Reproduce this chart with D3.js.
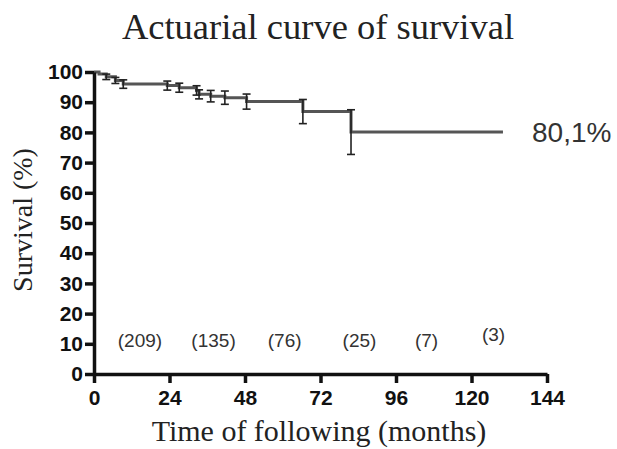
<!DOCTYPE html>
<html>
<head>
<meta charset="utf-8">
<script src="https://cdn.jsdelivr.net/npm/d3@7"></script>
<style>
  body { margin: 0; background: #fff; }
</style>
</head>
<body>
<div id="chart"></div>
<script>
// step times (months) and survival (%)
var stepTimes = [0, 1.6, 3.9, 6.8, 9.3, 23.3, 27.1, 32.6, 33.4, 37.1, 41.6, 48.5, 66.4, 81.7];
var survival  = [100, 99.3, 98.4, 97.2, 96.0, 95.5, 94.8, 93.9, 92.6, 92.0, 91.5, 90.2, 86.9, 80.1];
var errHalf   = [0, 0, 0.9, 1.0, 1.4, 1.5, 1.5, 1.55, 1.5, 1.9, 2.2, 2.5, 4.0, 7.4];
var lastTime = 130;

// patients at risk, printed along the bottom
var riskLabels = ["(209)", "(135)", "(76)", "(25)", "(7)", "(3)"];
var riskTimes  = [14.6, 38.0, 60.6, 84.4, 105.7, 127.0];
var riskLevel  = [11, 11, 11, 11, 11, 13];

var xTicks = [0, 24, 48, 72, 96, 120, 144];
var yTicks = [0, 10, 20, 30, 40, 50, 60, 70, 80, 90, 100];

var width = 617, height = 449;

var svg = d3.select("#chart").append("svg")
    .attr("width", width)
    .attr("height", height);

var x = d3.scaleLinear().domain([0, 144]).range([94, 547]);
var y = d3.scaleLinear().domain([0, 100]).range([374, 72]);

// title
svg.append("text")
    .attr("x", 318)
    .attr("y", 39)
    .attr("text-anchor", "middle")
    .attr("font-family", "Liberation Serif, Times New Roman, serif")
    .attr("font-size", "36.5px")
    .attr("fill", "#222")
    .text("Actuarial curve of survival");

// survival step line
var pts = stepTimes.map(function (t, i) { return [t, survival[i]]; });
pts.push([lastTime, survival[survival.length - 1]]);

var line = d3.line()
    .x(function (d) { return x(d[0]); })
    .y(function (d) { return y(d[1]); })
    .curve(d3.curveStepAfter);

svg.append("path")
    .datum(pts)
    .attr("d", line)
    .attr("fill", "none")
    .attr("stroke", "#555")
    .attr("stroke-width", 3);

// error bars
var bars = stepTimes.map(function (t, i) { return { t: t, s: survival[i], e: errHalf[i] }; })
    .filter(function (d) { return d.e > 0; });

var eb = svg.selectAll("g.err")
    .data(bars)
    .enter()
    .append("g")
    .attr("class", "err")
    .attr("stroke", "#222")
    .attr("stroke-width", 1.6);

eb.append("line")
    .attr("x1", function (d) { return x(d.t); })
    .attr("x2", function (d) { return x(d.t); })
    .attr("y1", function (d) { return y(d.s + d.e); })
    .attr("y2", function (d) { return y(d.s - d.e); });

eb.append("line")
    .attr("x1", function (d) { return x(d.t) - 4; })
    .attr("x2", function (d) { return x(d.t) + 4; })
    .attr("y1", function (d) { return y(d.s + d.e); })
    .attr("y2", function (d) { return y(d.s + d.e); });

eb.append("line")
    .attr("x1", function (d) { return x(d.t) - 4; })
    .attr("x2", function (d) { return x(d.t) + 4; })
    .attr("y1", function (d) { return y(d.s - d.e); })
    .attr("y2", function (d) { return y(d.s - d.e); });

// axes
var xAxis = svg.append("g")
    .attr("transform", "translate(0," + y(0) + ")")
    .call(d3.axisBottom(x).tickValues(xTicks).tickSize(9).tickPadding(7).tickSizeOuter(0));

var yAxis = svg.append("g")
    .attr("transform", "translate(" + x(0) + ",0)")
    .call(d3.axisLeft(y).tickValues(yTicks).tickSize(9).tickPadding(2).tickSizeOuter(0));

[xAxis, yAxis].forEach(function (g) {
    g.select(".domain").attr("stroke", "#111").attr("stroke-width", 3.5);
    g.selectAll(".tick line").attr("stroke", "#111").attr("stroke-width", 3.5);
    g.selectAll(".tick text")
        .attr("font-family", "Liberation Sans, Arial, sans-serif")
        .attr("font-weight", "bold")
        .attr("font-size", "21px")
        .attr("fill", "#111");
});

// numbers at risk
svg.selectAll("text.risk")
    .data(riskLabels)
    .enter()
    .append("text")
    .attr("class", "risk")
    .attr("x", function (d, i) { return x(riskTimes[i]); })
    .attr("y", function (d, i) { return y(riskLevel[i]); })
    .attr("dy", "0.35em")
    .attr("text-anchor", "middle")
    .attr("font-family", "Liberation Sans, Arial, sans-serif")
    .attr("font-size", "19px")
    .attr("fill", "#333")
    .text(function (d) { return d; });

// final value label
svg.append("text")
    .attr("x", 532)
    .attr("y", y(survival[survival.length - 1]))
    .attr("dy", "0.35em")
    .attr("font-family", "Liberation Sans, Arial, sans-serif")
    .attr("font-size", "28px")
    .attr("fill", "#333")
    .text("80,1%");

// axis titles
svg.append("text")
    .attr("x", 319)
    .attr("y", 441)
    .attr("text-anchor", "middle")
    .attr("font-family", "Liberation Serif, Times New Roman, serif")
    .attr("font-size", "30px")
    .attr("fill", "#222")
    .text("Time of following (months)");

svg.append("text")
    .attr("transform", "translate(32,220) rotate(-90)")
    .attr("text-anchor", "middle")
    .attr("font-family", "Liberation Serif, Times New Roman, serif")
    .attr("font-size", "28px")
    .attr("fill", "#222")
    .text("Survival (%)");
</script>
</body>
</html>
